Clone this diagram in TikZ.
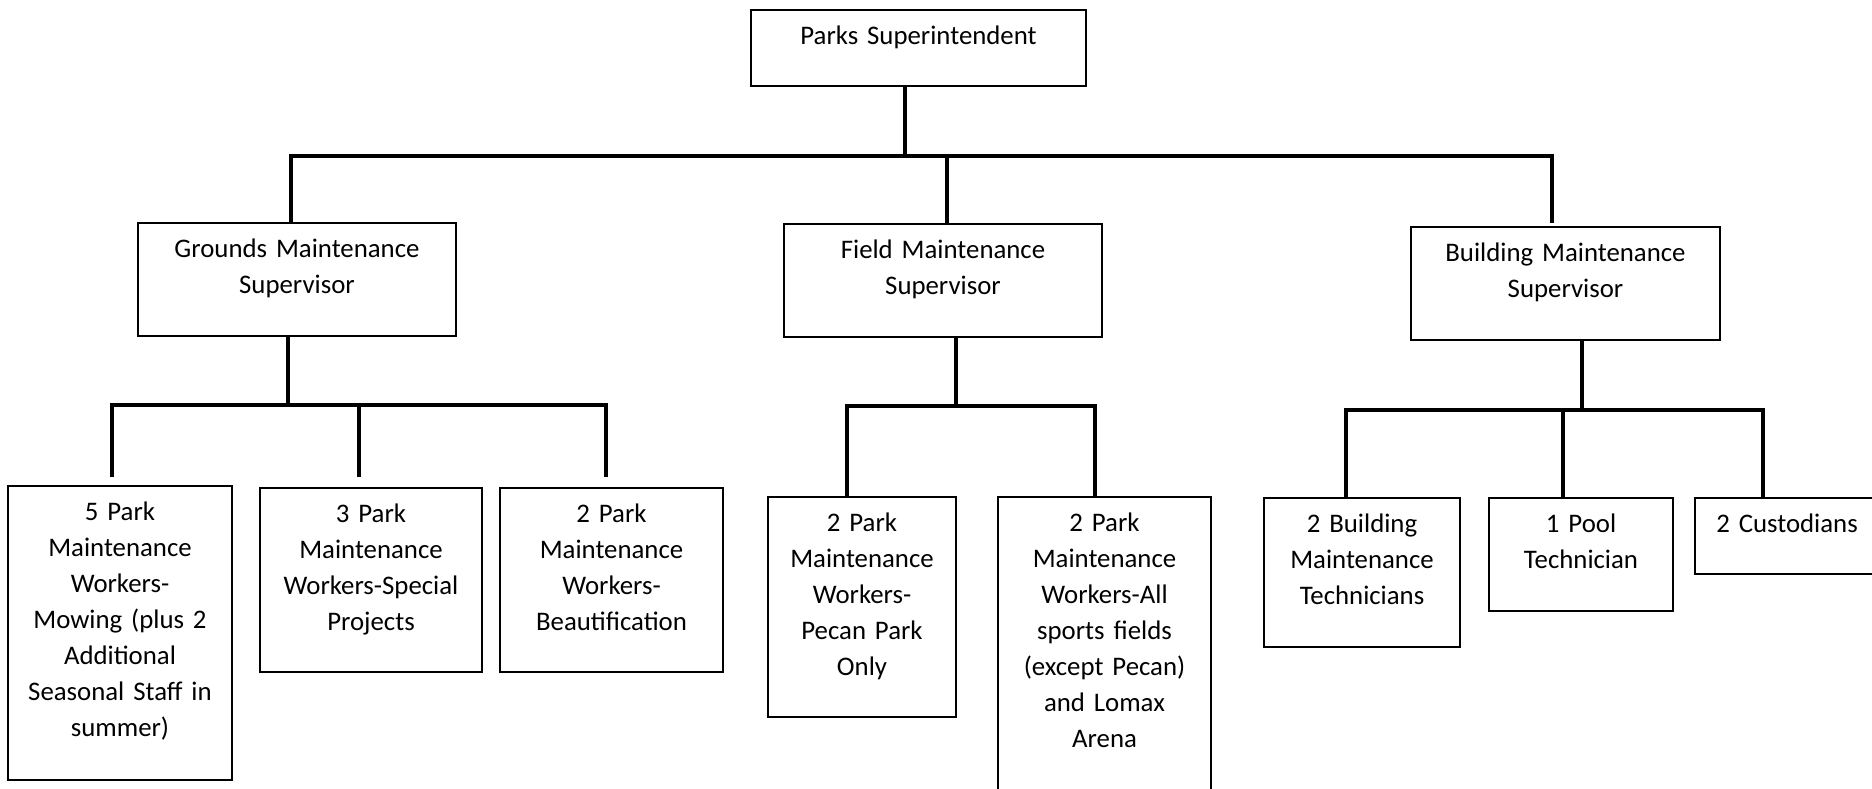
\documentclass[tikz,border=0pt]{standalone}
\usepackage{fontspec}
\setmainfont{Carlito}
\begin{document}
\begin{tikzpicture}[x=0.5pt,y=-0.5pt,inner sep=0pt,outer sep=0pt,
orgbox/.style={draw,line width=0.6pt,rectangle,anchor=north west,align=center,text height=17pt,font=\fontsize{13.4}{18}\selectfont},
link/.style={line width=1.7pt}]
\useasboundingbox (0,0) rectangle (1872,788);
\clip (0,0) rectangle (1872,788);

% boxes
\draw (751,10) node[orgbox,text width=167.5pt,text depth=21pt] (sup) {Parks Superintendent};
\draw (138,223) node[orgbox,text width=159pt,text depth=39.5pt] (grounds) {Grounds Maintenance\\Supervisor};
\draw (784,224) node[orgbox,text width=159pt,text depth=39.5pt] (field) {Field Maintenance\\Supervisor};
\draw (1411,227) node[orgbox,text width=154.5pt,text depth=39.5pt] (building) {Building Maintenance\\Supervisor};

\draw (8,486) node[orgbox,text width=112pt,text depth=130pt] (mowing) {5 Park\\Maintenance\\Workers-\\Mowing (plus 2\\Additional\\Seasonal Staff in\\summer)};
\draw (260,488) node[orgbox,text width=111pt,text depth=75pt] (special) {3 Park\\Maintenance\\Workers-Special\\Projects};
\draw (500,488) node[orgbox,text width=111.5pt,text depth=75pt] (beauty) {2 Park\\Maintenance\\Workers-\\Beautification};
\draw (768,497) node[orgbox,text width=94pt,text depth=93pt] (pecan) {2 Park\\Maintenance\\Workers-\\Pecan Park\\Only};
\draw (998,497) node[orgbox,text width=106.5pt,text depth=143pt] (sports) {2 Park\\Maintenance\\Workers-All\\sports fields\\(except Pecan)\\and Lomax\\Arena};
\draw (1264,498) node[orgbox,text width=98pt,text depth=57.5pt] (bldgtech) {2 Building\\Maintenance\\Technicians};
\draw (1489,498) node[orgbox,text width=92pt,text depth=39.5pt] (pool) {1 Pool\\Technician};
\draw (1695,498) node[orgbox,text width=92pt,text depth=21pt] (custodian) {2 Custodians};

% top level
\coordinate (bus) at ([xshift=-6.75pt]sup.south |- 0,156);
\draw[link] ([xshift=-6.75pt]sup.south) -- (bus);
\draw[link] ([xshift=-3pt]grounds.north) |- (bus) -| ([shift={(-6.75pt,2pt)}]building.north);
\draw[link] ([xshift=2pt]field.north) -- ([xshift=2pt]field.north |- bus);

% grounds
\coordinate (gbus) at ([xshift=-4.5pt]grounds.south |- 0,405);
\draw[link] ([xshift=-4.5pt]grounds.south) -- (gbus);
\draw[link] ([shift={(-4pt,4.5pt)}]mowing.north) |- (gbus) -| ([shift={(-2.75pt,5.5pt)}]beauty.north);
\draw[link] ([shift={(-6pt,5.5pt)}]special.north) -- ([xshift=-6pt]special.north |- gbus);

% field
\coordinate (fbus) at ([xshift=6.5pt]field.south |- 0,406);
\draw[link] ([xshift=6.5pt]field.south) -- (fbus);
\draw[link] ([xshift=-7.5pt]pecan.north) |- (fbus) -| ([xshift=-4.75pt]sports.north);

% building
\coordinate (bbus) at ([xshift=8.25pt]building.south |- 0,410);
\draw[link] ([xshift=8.25pt]building.south) -- (bbus);
\draw[link] ([xshift=-8pt]bldgtech.north) |- (bbus) -| ([xshift=-12pt]custodian.north);
\draw[link] ([xshift=-9pt]pool.north) -- ([xshift=-9pt]pool.north |- bbus);
\end{tikzpicture}
\end{document}
